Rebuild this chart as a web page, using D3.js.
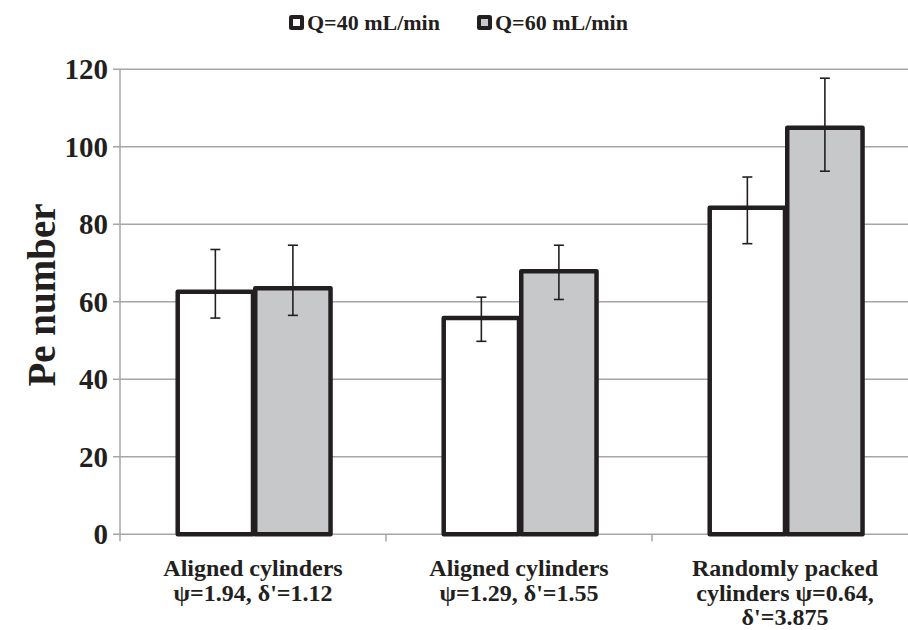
<!DOCTYPE html>
<html>
<head>
<meta charset="utf-8">
<script src="https://cdn.jsdelivr.net/npm/d3@7"></script>
<style>
  html, body { margin: 0; padding: 0; background: #fff; }
  svg { display: block; }
  text { font-family: "Liberation Serif", "Times New Roman", serif; font-weight: bold; fill: #231f20; }
</style>
</head>
<body>
<svg id="chart" width="908" height="630"></svg>
<script>
// ---- data ----
const categories = ["g1", "g2", "g3"];
const categoryLabels = [
  ["Aligned cylinders", "\u03c8=1.94, \u03b4'=1.12"],
  ["Aligned cylinders", "\u03c8=1.29, \u03b4'=1.55"],
  ["Randomly packed", "cylinders \u03c8=0.64,", "\u03b4'=3.875"]
];
const seriesNames = ["Q=40 mL/min", "Q=60 mL/min"];
const q40 = [62.6, 55.8, 84.3];
const q60 = [63.5, 67.9, 104.9];
const q40ErrHigh = [73.5, 61.2, 92.2];
const q40ErrLow = [55.8, 49.8, 75.0];
const q60ErrHigh = [74.6, 74.6, 117.7];
const q60ErrLow = [56.5, 60.6, 93.7];
const yTicks = [0, 20, 40, 60, 80, 100, 120];

// ---- layout ----
const svg = d3.select("#chart");
const plotLeft = 120, plotRight = 918, plotTop = 69.3, plotBottom = 534.3;
const fills = ["#ffffff", "#c7c8ca"];
const ink = "#231f20";
const gridColor = "#a6a6a6";

const x = d3.scaleBand().domain(categories).range([plotLeft, plotRight]).paddingInner(0.417).paddingOuter(0.2085);
const xs = d3.scaleBand().domain([0, 1]).range([0, x.bandwidth()]);
const y = d3.scaleLinear().domain([0, 120]).range([plotBottom, plotTop]);

// gridlines + y ticks
const g = svg.append("g");
g.selectAll("line.grid").data(yTicks).join("line")
  .attr("x1", plotLeft - 7).attr("x2", 908)
  .attr("y1", d => y(d)).attr("y2", d => y(d))
  .attr("stroke", gridColor).attr("stroke-width", 1.5);
// y axis line
g.append("line").attr("x1", plotLeft).attr("x2", plotLeft).attr("y1", y(120)).attr("y2", plotBottom + 7)
  .attr("stroke", gridColor).attr("stroke-width", 1.5);
// x category ticks
const boundaries = categories.slice(1).map(c => x(c) - x.step() * x.paddingInner() / 2);
g.selectAll("line.xt").data(boundaries).join("line")
  .attr("x1", d => d).attr("x2", d => d).attr("y1", plotBottom).attr("y2", plotBottom + 7)
  .attr("stroke", gridColor).attr("stroke-width", 1.5);

// y tick labels
svg.selectAll("text.yt").data(yTicks).join("text")
  .attr("x", 108).attr("y", d => y(d)).attr("dy", "0.35em")
  .attr("text-anchor", "end").attr("font-size", 29).text(d => d);

// y title
svg.append("text").attr("transform", "translate(55,295) rotate(-90)")
  .attr("text-anchor", "middle").attr("font-size", 39).text("Pe number");

// bars
const series = [q40, q60];
const errs = [[q40ErrLow, q40ErrHigh], [q60ErrLow, q60ErrHigh]];
const sw = 4.5;
series.forEach((vals, si) => {
  svg.selectAll("rect.s" + si).data(vals).join("rect")
    .attr("x", (d, i) => x(categories[i]) + xs(si) + sw / 2)
    .attr("y", d => y(d))
    .attr("width", xs.bandwidth() - sw / 2)
    .attr("height", d => plotBottom - y(d))
    .attr("fill", fills[si]).attr("stroke", ink).attr("stroke-width", sw)
    .attr("stroke-linejoin", "round");
});
// error bars
series.forEach((vals, si) => {
  const [lo, hi] = errs[si];
  vals.forEach((v, i) => {
    const cx = x(categories[i]) + xs(si) + sw / 2 + (xs.bandwidth() - sw / 2) / 2;
    const eg = svg.append("g").attr("stroke", ink).attr("stroke-width", 1.6);
    eg.append("line").attr("x1", cx).attr("x2", cx).attr("y1", y(hi[i])).attr("y2", y(lo[i]));
    eg.append("line").attr("x1", cx - 5).attr("x2", cx + 5).attr("y1", y(hi[i])).attr("y2", y(hi[i]));
    eg.append("line").attr("x1", cx - 5).attr("x2", cx + 5).attr("y1", y(lo[i])).attr("y2", y(lo[i]));
  });
});

// category labels
categoryLabels.forEach((lines, i) => {
  const t = svg.append("text").attr("text-anchor", "middle").attr("font-size", 24);
  lines.forEach((ln, k) => {
    t.append("tspan").attr("x", x(categories[i]) + x.bandwidth() / 2)
      .attr("y", 576 + k * 24.5).text(ln);
  });
});

// legend
const legendX = [289, 477];
seriesNames.forEach((name, si) => {
  const lg = svg.append("g").attr("transform", `translate(${legendX[si]},15)`);
  lg.append("rect").attr("x", 0).attr("y", 0).attr("width", 15).attr("height", 15)
    .attr("rx", 2.5).attr("fill", ink);
  lg.append("rect").attr("x", 4).attr("y", 4).attr("width", 7).attr("height", 7)
    .attr("fill", fills[si]);
  lg.append("text").attr("x", 18).attr("y", 15).attr("font-size", 22).text(name);
});
</script>
</body>
</html>
